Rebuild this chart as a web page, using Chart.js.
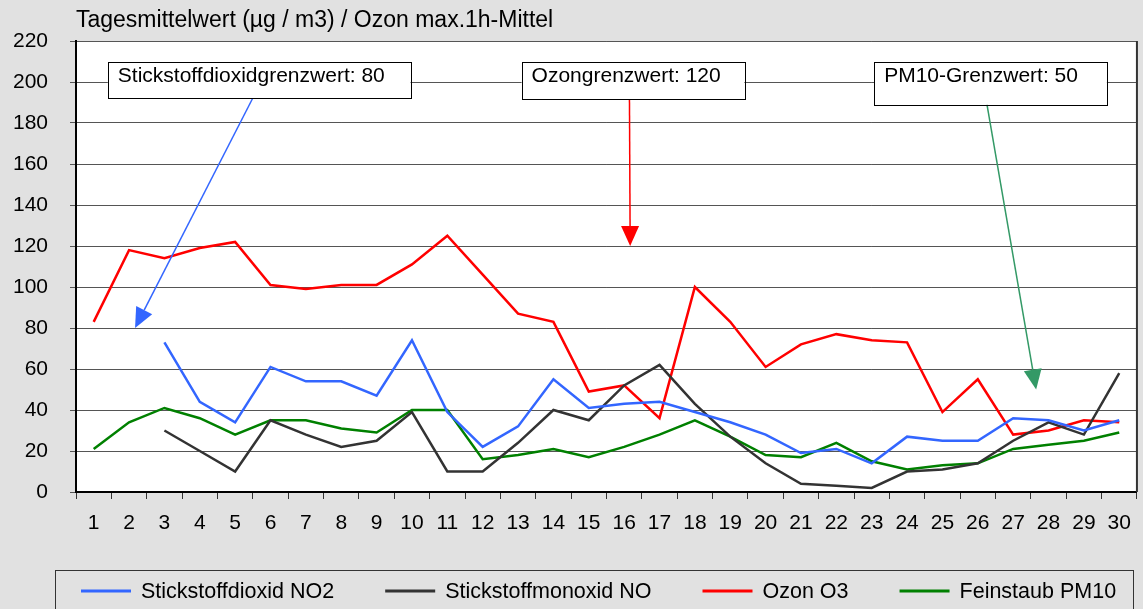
<!DOCTYPE html>
<html>
<head>
<meta charset="utf-8">
<script src="https://cdn.jsdelivr.net/npm/chart.js@4.4.0/dist/chart.umd.min.js"></script>
<style>
  html, body { margin:0; padding:0; background:#e1e1e1; }
  canvas { display:block; }
</style>
</head>
<body>
<canvas id="chart" width="1143" height="609"></canvas>
<script>
const days = ["1","2","3","4","5","6","7","8","9","10","11","12","13","14","15","16","17","18","19","20","21","22","23","24","25","26","27","28","29","30"];
const no2  = [null,null,73,44,34,61,54,54,47,74,39,22,32,55,41,43,44,39,34,28,19,21,14,27,25,25,36,35,30,35];
const no   = [null,null,30,20,10,35,28,22,25,39,10,10,24,40,35,52,62,43,27,14,4,3,2,10,11,14,25,34,28,58];
const o3   = [83,118,114,119,122,101,99,101,101,111,125,106,87,83,49,52,36,100,83,61,72,77,74,73,39,55,28,30,35,34];
const pm10 = [21,34,41,36,28,35,35,31,29,40,40,16,18,21,17,22,28,35,27,18,17,24,15,11,13,14,21,23,25,29];

const yTicks = [0,20,40,60,80,100,120,140,160,180,200,220];
const yTitle = "Tagesmittelwert (µg / m3) / Ozon max.1h-Mittel";

// callouts, placed in data units (category index, value)
const notes = [
  { text:"Stickstoffdioxidgrenzwert: 80", color:"#3366ff", box:[0.40, 8.96, 209.8, 192.2], from:[4.5, 192.2], to:[1.17, 80] },
  { text:"Ozongrenzwert: 120",            color:"#ff0000", box:[12.1, 18.4, 209.8, 191.7], from:[15.15, 191.7], to:[15.17, 120] },
  { text:"PM10-Grenzwert: 50",            color:"#339966", box:[22.07, 28.65, 209.8, 189.0], from:[25.26, 189.0], to:[26.65, 50] }
];

const FONT = "Liberation Sans, Arial, sans-serif";

function arrow(ctx, x1, y1, x2, y2, color){
  const a = Math.atan2(y2 - y1, x2 - x1);
  const len = 20, half = 9;
  const bx = x2 - Math.cos(a) * len, by = y2 - Math.sin(a) * len;
  ctx.strokeStyle = color; ctx.fillStyle = color; ctx.lineWidth = 1.5;
  ctx.beginPath(); ctx.moveTo(x1, y1); ctx.lineTo(bx, by); ctx.stroke();
  ctx.beginPath();
  ctx.moveTo(x2, y2);
  ctx.lineTo(bx + Math.sin(a) * half, by - Math.cos(a) * half);
  ctx.lineTo(bx - Math.sin(a) * half, by + Math.cos(a) * half);
  ctx.closePath(); ctx.fill();
}

const decor = {
  id:"decor",
  beforeDraw(chart){
    const { ctx, chartArea:a } = chart;
    ctx.save();
    ctx.fillStyle = "#e1e1e1";
    ctx.fillRect(0, 0, chart.width, chart.height);
    ctx.fillStyle = "#fff";
    ctx.fillRect(a.left, a.top, a.right - a.left, a.bottom - a.top);
    ctx.restore();
  },
  afterDraw(chart){
    const { ctx, chartArea:a, scales:{ x, y } } = chart;
    ctx.save();
    // right frame line
    ctx.strokeStyle = "#333"; ctx.lineWidth = 2;
    ctx.beginPath(); ctx.moveTo(a.right, a.top); ctx.lineTo(a.right, a.bottom); ctx.stroke();

    // axis title
    ctx.fillStyle = "#000";
    ctx.font = "23px " + FONT;
    ctx.textBaseline = "middle";
    ctx.textAlign = "left";
    ctx.fillText(yTitle, a.left, 21);

    // callouts
    ctx.font = "21px " + FONT;
    notes.forEach(n => {
      const l = x.getPixelForValue(n.box[0]), r = x.getPixelForValue(n.box[1]);
      const t = y.getPixelForValue(n.box[2]), b = y.getPixelForValue(n.box[3]);
      arrow(ctx, x.getPixelForValue(n.from[0]), y.getPixelForValue(n.from[1]),
                 x.getPixelForValue(n.to[0]), y.getPixelForValue(n.to[1]), n.color);
      ctx.fillStyle = "#fff";
      ctx.fillRect(l, t, r - l, b - t);
      ctx.strokeStyle = "#000"; ctx.lineWidth = 1;
      ctx.strokeRect(Math.round(l) + 0.5, Math.round(t) + 0.5, Math.round(r - l), Math.round(b - t));
      ctx.fillStyle = "#000";
      ctx.fillText(n.text, l + 10, t + 14);
    });

    // legend
    ctx.font = "21.5px " + FONT;
    const bx = 55, bw = 1078, by = 570;
    ctx.strokeStyle = "#333"; ctx.lineWidth = 1;
    ctx.strokeRect(bx + 0.5, by + 0.5, bw, 60);
    const sw = 50, tg = 10, gap = 51, cy = 591;
    let cx = bx + 26;
    chart.data.datasets.forEach(d => {
      ctx.strokeStyle = d.borderColor; ctx.lineWidth = 3;
      ctx.beginPath(); ctx.moveTo(cx, cy); ctx.lineTo(cx + sw, cy); ctx.stroke();
      ctx.fillStyle = "#000";
      ctx.fillText(d.label, cx + sw + tg, cy + 1);
      cx += sw + tg + ctx.measureText(d.label).width + gap;
    });
    ctx.restore();
  }
};

function line(label, data, color){
  return { label, data, borderColor:color, backgroundColor:color, borderWidth:2.5,
           pointRadius:0, tension:0, spanGaps:false };
}

new Chart(document.getElementById("chart"), {
  type:"line",
  data:{
    labels:days,
    datasets:[
      line("Stickstoffdioxid NO2", no2, "#3366ff"),
      line("Stickstoffmonoxid NO", no, "#333333"),
      line("Ozon O3", o3, "#ff0000"),
      line("Feinstaub PM10", pm10, "#008000")
    ]
  },
  options:{
    responsive:false,
    animation:false,
    devicePixelRatio:1,
    layout:{ padding:{ top:41, right:4, left:0, bottom:0 } },
    plugins:{ legend:{ display:false }, tooltip:{ enabled:false } },
    scales:{
      x:{
        offset:true,
        grid:{ offset:true, drawOnChartArea:false, tickLength:7, color:"#333" },
        border:{ color:"#000", width:2 },
        ticks:{ color:"#000", font:{ family:FONT, size:21 }, padding:12, maxRotation:0, autoSkip:false },
        afterFit(s){ s.height = 117; }
      },
      y:{
        min:0, max:220,
        afterBuildTicks(s){ s.ticks = yTicks.map(v => ({ value:v })); },
        grid:{ color:"#555", tickLength:6 },
        border:{ color:"#000", width:2 },
        ticks:{ color:"#000", font:{ family:FONT, size:21 }, padding:22 },
        afterFit(s){ s.width = 76; }
      }
    }
  },
  plugins:[decor]
});
</script>
</body>
</html>
